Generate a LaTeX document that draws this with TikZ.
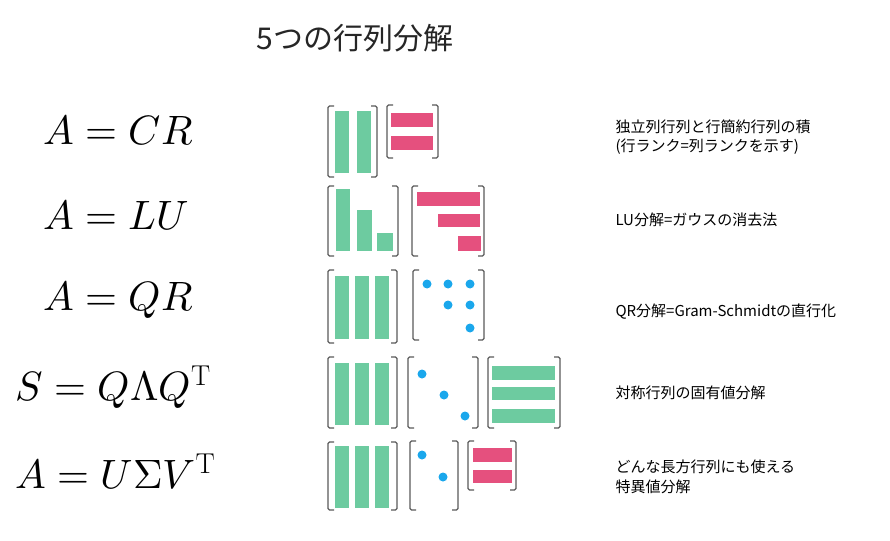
\documentclass[tikz,border=0pt]{standalone}
\usepackage{fontspec}
\usepackage{unicode-math}
\setmathfont{Latin Modern Math}
\newfontfamily\jp{Noto Sans CJK JP}
\definecolor{grn}{HTML}{6DCBA0}
\definecolor{pnk}{HTML}{E5507E}
\definecolor{blu}{HTML}{1AA7EC}
\newcommand\mybrk[4]{%
 \draw[brk] (#1+6,#2)--(#1,#2)--(#1,#4)--(#1+6,#4);
 \draw[brk] (#3-6,#2)--(#3,#2)--(#3,#4)--(#3-6,#4);}
\newcommand\gb[4]{\fill[grn] (#1,#2) rectangle (#3,#4);}
\newcommand\pb[4]{\fill[pnk] (#1,#2) rectangle (#3,#4);}
\newcommand\bd[2]{\fill[blu] (#1,#2) circle (4.5);}
\begin{document}
\begin{tikzpicture}[x=1pt,y=-1pt,
 brk/.style={draw=black!65,line width=1.3pt,rounded corners=1.5pt},
 eq/.style={anchor=west,font=\fontsize{41}{44}\selectfont},
 desc/.style={anchor=west,font=\jp\fontsize{15}{19.5}\selectfont,align=left}]
\useasboundingbox (0,0) rectangle (890,540);
\node[font=\jp\fontsize{30}{32}\selectfont,text=black!85] (title) at (355,38) {5つの行列分解};
\node[eq] (e1) at (40,130) {$A=CR$};
\node[eq] (e2) at (40,215) {$A=LU$};
\node[eq] (e3) at (40,300) {$A=QR$};
\node[eq] (e4) at (12,387) {$S=Q\Lambda Q^{\mathrm{T}}$};
\node[eq] (e5) at (12,472) {$A=U\Sigma V^{\mathrm{T}}$};
\node[desc] (d1) at (612,137) {独立列行列と行簡約行列の積\\(行ランク=列ランクを示す)};
\node[desc] (d2) at (612,220) {LU分解=ガウスの消去法};
\node[desc] (d3) at (612,312) {QR分解=Gram-Schmidtの直行化};
\node[desc] (d4) at (612,393) {対称行列の固有値分解};
\node[desc] (d5) at (612,477) {どんな長方行列にも使える\\特異値分解};
% row 1
\mybrk{328}{106}{377}{177}
\gb{335}{111}{349}{173}\gb{357}{111}{371}{173}
\mybrk{387}{105}{438}{158}
\pb{391}{113}{433}{127}\pb{391}{136}{433}{150}
% row 2
\mybrk{328}{186}{398}{256}
\gb{336}{189}{350}{251}\gb{357}{210}{372}{251}\gb{377}{233}{393}{251}
\mybrk{412}{186}{484}{256}
\pb{417}{192}{480}{206}\pb{438}{214}{480}{227}\pb{458}{236}{481}{251}
% row 3
\mybrk{328}{270}{397}{343}
\gb{335}{276}{349}{339}\gb{355}{276}{369}{339}\gb{375}{276}{389}{339}
\mybrk{413}{270}{484}{340}
\bd{427}{284}\bd{448}{284}\bd{470}{284}\bd{448}{305}\bd{470}{305}\bd{470}{328}
% row 4
\mybrk{328}{357}{397}{428}
\gb{335}{363}{349}{425}\gb{355}{363}{369}{425}\gb{375}{363}{389}{425}
\mybrk{408}{357}{478}{428}
\bd{422}{374}\bd{444}{395}\bd{465}{416}
\mybrk{488}{357}{560}{428}
\gb{492}{366}{555}{380}\gb{492}{387}{555}{400}\gb{492}{409}{555}{423}
% row 5
\mybrk{328}{442}{397}{510}
\gb{335}{446}{349}{508}\gb{355}{446}{369}{508}\gb{375}{446}{389}{508}
\mybrk{410}{441}{458}{510}
\bd{422}{455}\bd{443}{477}
\mybrk{468}{441}{516}{490}
\pb{473}{448}{512}{462}\pb{473}{470}{512}{483}
\end{tikzpicture}
\end{document}
